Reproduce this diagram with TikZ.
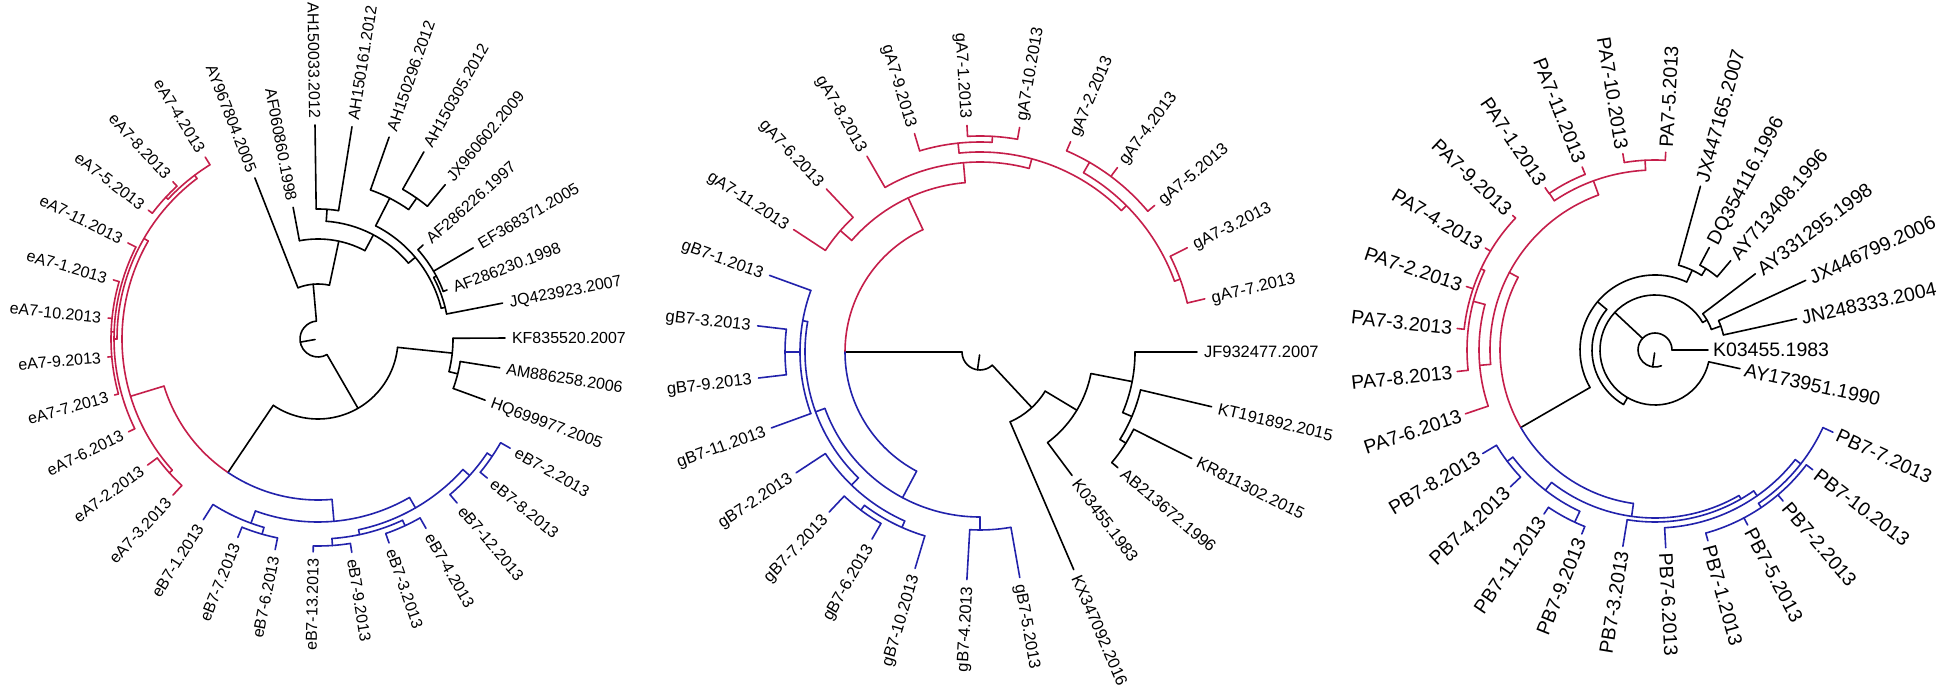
\documentclass[tikz,border=0pt]{standalone}
\usepackage{fontspec}
\setmainfont{Liberation Sans}
\definecolor{cr}{RGB}{197,30,74}
\definecolor{cb}{RGB}{34,34,172}
\newcommand\labfont{\fontsize{16}{18}\selectfont}
\newcommand\labgap{7pt}
\newcommand\labth{11.5pt}
\tikzset{
  brk/.style={line width=1.6pt, line cap=round, draw=black},
  brr/.style={brk, draw=cr},
  brb/.style={brk, draw=cb},
  lab/.style={font=\labfont, text=black, inner xsep=\labgap, inner ysep=0pt,
              text height=\labth, text depth=0pt, outer sep=0pt}
}
% radial segment: style, angle, r1, r2
\newcommand\TRad[4]{\draw[#1] (#2:#3pt) -- (#2:#4pt);}
% arc: style, start angle, end angle, radius
\newcommand\TArc[4]{\draw[#1] (#2:#4pt) arc[start angle=#2, end angle=#3, radius=#4pt];}
% leaf: style, angle, r base, r tip, name, text
\newcommand\TLeaf[6]{%
  \coordinate (b#5) at (#2:#3pt);
  \coordinate (t#5) at (#2:#4pt);
  \draw[#1] (b#5) -- (t#5);
  \pgfmathtruncatemacro\flp{((#2>90)&&(#2<270))?1:0}%
  \ifnum\flp=1
    \node[lab, anchor=east, rotate=#2+180] (#5) at (t#5) {#6};
  \else
    \node[lab, anchor=west, rotate=#2] (#5) at (t#5) {#6};
  \fi}
\begin{document}
\begin{tikzpicture}
\useasboundingbox (0pt,0pt) rectangle (1946pt,688pt);
\fill[white] (0pt,0pt) rectangle (1946pt,688pt);

% ================= TREE 1 =================
\begin{scope}[shift={(318pt,349pt)}]
\TArc{brk}{95}{300}{18}
\TRad{brk}{190}{3}{18}
\TRad{brk}{95}{18}{55}
\TArc{brk}{78}{111.4}{55}
\TLeaf{brk}{111.4}{55}{173}{aAYa}{AY967804.2005}
\TRad{brk}{78}{55}{100}
\TArc{brk}{62}{100.7}{100}
\TLeaf{brk}{100.7}{100}{134}{aAFa}{AF060860.1998}
\TRad{brk}{62}{100}{118}
\TArc{brk}{40}{86}{118}
\TRad{brk}{86}{118}{130}
\TArc{brk}{80.9}{90.8}{130}
\TLeaf{brk}{90.8}{130}{214}{aAHa}{AH150033.2012}
\TLeaf{brk}{80.9}{130}{215}{aAHb}{AH150161.2012}
\TRad{brk}{40}{118}{127}
\TArc{brk}{14}{63}{127}
\TRad{brk}{63}{127}{158}
\TArc{brk}{55}{70.6}{158}
\TLeaf{brk}{70.6}{158}{214}{aAHc}{AH150296.2012}
\TRad{brk}{55}{158}{172}
\TArc{brk}{50.5}{60.5}{172}
\TLeaf{brk}{60.5}{172}{215}{aAHd}{AH150305.2012}
\TLeaf{brk}{50.5}{172}{200}{aJXa}{JX960602.2009}
\TRad{brk}{14}{127}{131}
\TArc{brk}{11}{28}{131}
\TLeaf{brk}{11}{131}{188}{aJQa}{JQ423923.2007}
\TRad{brk}{28}{131}{134}
\TArc{brk}{20.8}{41.8}{134}
\TLeaf{brk}{41.8}{134}{141}{aAFb}{AF286226.1997}
\TLeaf{brk}{30.4}{134}{180}{aEFa}{EF368371.2005}
\TLeaf{brk}{20.8}{134}{138}{aAFc}{AF286230.1998}
\TRad{brk}{300}{18}{80}
\TArc{brk}{236}{354}{80}
\TRad{brk}{236}{80}{161}
\TRad{brk}{354}{80}{135}
\TArc{brk}{346}{360.3}{135}
\TLeaf{brk}{0.3}{135}{187}{aKFa}{KF835520.2007}
\TRad{brk}{346}{135}{144}
\TArc{brk}{339.9}{351}{144}
\TLeaf{brk}{351}{144}{184}{aAMa}{AM886258.2006}
\TLeaf{brk}{339.9}{144}{178}{aHQa}{HQ699977.2005}
% red
\TArc{brr}{197}{236}{161}
\TRad{brr}{197}{161}{196}
\TArc{brr}{150}{222}{196}
\TRad{brr}{222}{196}{200}
\TArc{brr}{216.5}{227.1}{200}
\TLeaf{brr}{216.5}{200}{212}{aeAb}{eA7-2.2013}
\TLeaf{brr}{227.1}{200}{213}{aeAc}{eA7-3.2013}
\TRad{brr}{150}{196}{201}
\TArc{brr}{127}{180}{201}
\TRad{brr}{127}{201}{205}
\TArc{brr}{121.8}{137}{205}
\TLeaf{brr}{121.8}{205}{214}{aeAd}{eA7-4.2013}
\TRad{brr}{137}{205}{208}
\TArc{brr}{132.7}{142.8}{208}
\TLeaf{brr}{132.7}{208}{214}{aeAh}{eA7-8.2013}
\TLeaf{brr}{142.8}{208}{213}{aeAe}{eA7-5.2013}
\TRad{brr}{180}{201}{204}
\TArc{brr}{153.2}{206.1}{204}
\TLeaf{brr}{153.2}{204}{213}{aeAk}{eA7-11.2013}
\TRad{brr}{178}{204}{207}
\TArc{brr}{163.9}{195.4}{207}
\TLeaf{brr}{163.9}{207}{213}{aeAa}{eA7-1.2013}
\TLeaf{brr}{174.3}{207}{211}{aeAj}{eA7-10.2013}
\TLeaf{brr}{184.9}{207}{211}{aeAi}{eA7-9.2013}
\TLeaf{brr}{195.4}{207}{211}{aeAg}{eA7-7.2013}
\TLeaf{brr}{206.1}{204}{211}{aeAf}{eA7-6.2013}
% blue
\TArc{brb}{236}{275}{161}
\TRad{brb}{275}{161}{183}
\TArc{brb}{250}{300}{183}
\TRad{brb}{250}{183}{196}
\TArc{brb}{237.6}{254}{196}
\TLeaf{brb}{237.6}{196}{214}{aeBa}{eB7-1.2013}
\TRad{brb}{254}{196}{203}
\TArc{brb}{248}{258.5}{203}
\TLeaf{brb}{248}{203}{214}{aeBg}{eB7-7.2013}
\TLeaf{brb}{258.5}{203}{215}{aeBf}{eB7-6.2013}
\TRad{brb}{300}{183}{195}
\TArc{brb}{282}{318}{195}
\TRad{brb}{282}{195}{200}
\TArc{brb}{274}{295}{200}
\TRad{brb}{274}{200}{207}
\TArc{brb}{268.7}{279}{207}
\TLeaf{brb}{268.7}{207}{213}{aeBm}{eB7-13.2013}
\TLeaf{brb}{279}{207}{216}{aeBi}{eB7-9.2013}
\TRad{brb}{295}{200}{206}
\TArc{brb}{289.2}{299.7}{206}
\TLeaf{brb}{289.2}{206}{216}{aeBc}{eB7-3.2013}
\TLeaf{brb}{299.7}{206}{218}{aeBd}{eB7-4.2013}
\TRad{brb}{318}{195}{204}
\TArc{brb}{310.3}{326}{204}
\TLeaf{brb}{310.3}{204}{215}{aeBl}{eB7-12.2013}
\TRad{brb}{326}{204}{210}
\TArc{brb}{320.6}{330.4}{210}
\TLeaf{brb}{320.6}{210}{219}{aeBh}{eB7-8.2013}
\TLeaf{brb}{330.4}{210}{221}{aeBb}{eB7-2.2013}
\end{scope}

% ================= TREE 2 =================
\begin{scope}[shift={(980pt,336pt)}]
\def\labfont{\fontsize{16.5}{19}\selectfont}
\def\labth{11.9pt}
\TArc{brk}{180}{313}{18}
\TRad{brk}{262}{3}{18}
\TRad{brk}{180}{18}{135}
\TRad{brk}{313}{18}{76}
\TArc{brk}{293.3}{329}{76}
\TLeaf{brk}{293.3}{76}{237}{bKXa}{KX347092.2016}
\TRad{brk}{329}{76}{113}
\TArc{brk}{306.7}{349}{113}
\TLeaf{brk}{306.7}{113}{154}{bKOa}{K03455.1983}
\TRad{brk}{349}{113}{155}
\TArc{brk}{337}{360}{155}
\TLeaf{brk}{0}{155}{217}{bJFa}{JF932477.2007}
\TRad{brk}{337}{155}{165}
\TArc{brk}{328}{346.7}{165}
\TLeaf{brk}{346.7}{165}{238}{bKTa}{KT191892.2015}
\TRad{brk}{328}{165}{172}
\TArc{brk}{320}{333.3}{172}
\TLeaf{brk}{333.3}{172}{237}{bKRa}{KR811302.2015}
\TLeaf{brk}{320}{172}{180}{bABa}{AB213672.1996}
% red
\TArc{brr}{115}{180}{135}
\TRad{brr}{115}{135}{170}
\TArc{brr}{95}{139}{170}
\TRad{brr}{139}{170}{185}
\TArc{brr}{133.3}{146.7}{185}
\TLeaf{brr}{133.3}{185}{224}{bgAf}{gA7-6.2013}
\TLeaf{brr}{146.7}{185}{223}{bgAk}{gA7-11.2013}
\TRad{brr}{95}{170}{190}
\TArc{brr}{75}{120}{190}
\TLeaf{brr}{120}{190}{226}{bgAh}{gA7-8.2013}
\TRad{brr}{75}{190}{200}
\TArc{brr}{45}{96}{200}
\TRad{brr}{96}{200}{210}
\TArc{brr}{86.7}{106.7}{210}
\TLeaf{brr}{106.7}{210}{228}{bgAi}{gA7-9.2013}
\TRad{brr}{86.7}{210}{216}
\TArc{brr}{80}{93.3}{216}
\TLeaf{brr}{93.3}{216}{227}{bgAa}{gA7-1.2013}
\TLeaf{brr}{80}{216}{228}{bgAj}{gA7-10.2013}
\TRad{brr}{45}{200}{207}
\TArc{brr}{20}{60}{207}
\TRad{brr}{60}{207}{219}
\TArc{brr}{40}{66.7}{219}
\TLeaf{brr}{66.7}{219}{229}{bgAb}{gA7-2.2013}
\TLeaf{brr}{53.3}{219}{230}{bgAd}{gA7-4.2013}
\TLeaf{brr}{40}{219}{228}{bgAe}{gA7-5.2013}
\TRad{brr}{20}{207}{213}
\TArc{brr}{13.3}{26.7}{213}
\TLeaf{brr}{26.7}{213}{232}{bgAc}{gA7-3.2013}
\TLeaf{brr}{13.3}{213}{231}{bgAg}{gA7-7.2013}
% blue
\TArc{brb}{180}{242}{135}
\TRad{brb}{242}{135}{165}
\TArc{brb}{200}{270}{165}
\TRad{brb}{200}{165}{175}
\TArc{brb}{170}{226}{175}
\TRad{brb}{170}{175}{180}
\TArc{brb}{160}{200}{180}
\TLeaf{brb}{160}{180}{224}{bgBa}{gB7-1.2013}
\TLeaf{brb}{200}{180}{222}{bgBk}{gB7-11.2013}
\TRad{brb}{180}{180}{195}
\TArc{brb}{173.3}{186.7}{195}
\TLeaf{brb}{173.3}{195}{224}{bgBc}{gB7-3.2013}
\TLeaf{brb}{186.7}{195}{223}{bgBi}{gB7-9.2013}
\TRad{brb}{226}{175}{185}
\TArc{brb}{213.3}{246}{185}
\TLeaf{brb}{213.3}{185}{220}{bgBb}{gB7-2.2013}
\TRad{brb}{246}{185}{192}
\TArc{brb}{233}{253.3}{192}
\TLeaf{brb}{253.3}{192}{226}{bgBj}{gB7-10.2013}
\TRad{brb}{233}{192}{198}
\TArc{brb}{226.7}{240}{198}
\TLeaf{brb}{226.7}{198}{220}{bgBg}{gB7-7.2013}
\TLeaf{brb}{240}{198}{216}{bgBf}{gB7-6.2013}
\TRad{brb}{270}{165}{178}
\TArc{brb}{266.7}{280}{178}
\TLeaf{brb}{266.7}{178}{228}{bgBd}{gB7-4.2013}
\TLeaf{brb}{280}{178}{229}{bgBe}{gB7-5.2013}
\end{scope}

% ================= TREE 3 =================
\begin{scope}[shift={(1655pt,338pt)}]
\def\labfont{\fontsize{19.5}{22}\selectfont}
\def\labth{14pt}
\def\labgap{5pt}
\TArc{brk}{0}{292}{17}
\TRad{brk}{262}{3}{17}
\TLeaf{brk}{0}{17}{53}{cKOa}{K03455.1983}
\TRad{brk}{137}{17}{55}
\TArc{brk}{30}{347.6}{55}
\TLeaf{brk}{347.6}{55}{87}{cAYa}{AY173951.1990}
\TRad{brk}{30}{55}{60}
\TArc{brk}{20}{37.2}{60}
\TLeaf{brk}{37.2}{60}{126}{cAYb}{AY331295.1998}
\TRad{brk}{20}{60}{70}
\TArc{brk}{12.4}{24.8}{70}
\TLeaf{brk}{24.8}{70}{166}{cJXa}{JX446799.2006}
\TLeaf{brk}{12.4}{70}{145}{cJNa}{JN248333.2004}
\TRad{brk}{240}{55}{63}
\TArc{brk}{140}{240}{63}
\TRad{brk}{140}{63}{75}
\TArc{brk}{65}{210}{75}
\TRad{brk}{65}{75}{88}
\TArc{brk}{58}{74.5}{88}
\TLeaf{brk}{74.5}{88}{170}{cJXb}{JX447165.2007}
\TRad{brk}{58}{88}{96}
\TArc{brk}{49.7}{62.1}{96}
\TLeaf{brk}{62.1}{96}{116}{cDQa}{DQ354116.1996}
\TLeaf{brk}{49.7}{96}{117}{cAYc}{AY713408.1996}
\TRad{brk}{210}{75}{155}
% red
\TArc{brr}{152}{210}{155}
\TRad{brr}{152}{155}{165}
\TArc{brr}{110}{185}{165}
\TRad{brr}{110}{165}{180}
\TArc{brr}{93}{124}{180}
\TRad{brr}{93}{180}{190}
\TArc{brr}{86.9}{99.3}{190}
\TLeaf{brr}{86.9}{190}{198}{cPAe}{PA7-5.2013}
\TLeaf{brr}{99.3}{190}{199}{cPAj}{PA7-10.2013}
\TRad{brr}{124}{180}{189}
\TArc{brr}{111.7}{124.1}{189}
\TLeaf{brr}{111.7}{189}{197}{cPAk}{PA7-11.2013}
\TLeaf{brr}{124.1}{189}{196}{cPAa}{PA7-1.2013}
\TRad{brr}{185}{165}{176}
\TArc{brr}{165}{198.6}{176}
\TLeaf{brr}{198.6}{176}{200}{cPAf}{PA7-6.2013}
\TRad{brr}{165}{176}{188}
\TArc{brr}{155}{186.2}{188}
\TLeaf{brr}{186.2}{188}{199}{cPAh}{PA7-8.2013}
\TRad{brr}{155}{188}{192}
\TArc{brr}{136.6}{173.8}{192}
\TLeaf{brr}{136.6}{192}{196}{cPAi}{PA7-9.2013}
\TLeaf{brr}{149}{192}{198}{cPAd}{PA7-4.2013}
\TLeaf{brr}{161.4}{192}{199}{cPAb}{PA7-2.2013}
\TLeaf{brr}{173.8}{192}{199}{cPAc}{PA7-3.2013}
% blue
\TArc{brb}{210}{262}{155}
\TRad{brb}{262}{155}{168}
\TArc{brb}{232}{300}{168}
\TRad{brb}{232}{168}{178}
\TArc{brb}{217}{245}{178}
\TRad{brb}{217}{178}{185}
\TArc{brb}{211}{223.4}{185}
\TLeaf{brb}{211}{185}{201}{cPBh}{PB7-8.2013}
\TLeaf{brb}{223.4}{185}{199}{cPBd}{PB7-4.2013}
\TRad{brb}{245}{178}{190}
\TArc{brb}{235.9}{248.3}{190}
\TLeaf{brb}{235.9}{190}{198}{cPBk}{PB7-11.2013}
\TLeaf{brb}{248.3}{190}{198}{cPBi}{PB7-9.2013}
\TRad{brb}{300}{168}{172}
\TArc{brb}{260.7}{305}{172}
\TLeaf{brb}{260.7}{172}{199}{cPBc}{PB7-3.2013}
\TRad{brb}{305}{172}{178}
\TArc{brb}{273.1}{322}{178}
\TLeaf{brb}{273.1}{178}{198}{cPBf}{PB7-6.2013}
\TRad{brb}{322}{178}{185}
\TArc{brb}{304}{335.2}{185}
\TLeaf{brb}{335.2}{185}{196}{cPBg}{PB7-7.2013}
\TRad{brb}{304}{185}{190}
\TArc{brb}{285.5}{322.8}{190}
\TLeaf{brb}{285.5}{190}{198}{cPBa}{PB7-1.2013}
\TLeaf{brb}{297.9}{190}{198}{cPBe}{PB7-5.2013}
\TLeaf{brb}{310.3}{190}{198}{cPBb}{PB7-2.2013}
\TLeaf{brb}{322.8}{190}{198}{cPBj}{PB7-10.2013}
\end{scope}
\end{tikzpicture}
\end{document}
